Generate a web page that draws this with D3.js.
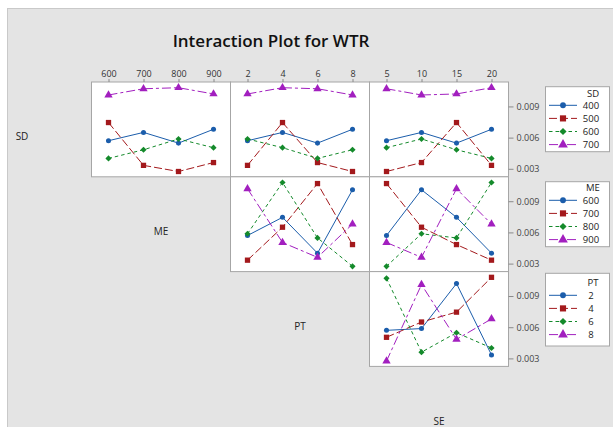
<!DOCTYPE html>
<html>
<head>
<meta charset="utf-8">
<script src="https://cdn.jsdelivr.net/npm/d3@7"></script>
<style>
  html, body { margin: 0; padding: 0; background: #ffffff; }
  svg { display: block; }
  text { font-family: "Open Sans", "Noto Sans", sans-serif; }
</style>
</head>
<body>
<svg id="chart" width="613" height="427"></svg>
<script>
// L16 runs: factor settings and the measured WTR of each run
const SD  = [400, 400, 400, 400, 500, 500, 500, 500, 600, 600, 600, 600, 700, 700, 700, 700];
const ME  = [600, 700, 800, 900, 600, 700, 800, 900, 600, 700, 800, 900, 600, 700, 800, 900];
const PT  = [2, 4, 6, 8, 4, 2, 8, 6, 6, 8, 2, 4, 8, 6, 4, 2];
const SE  = [5, 10, 15, 20, 15, 20, 5, 10, 20, 15, 10, 5, 10, 5, 20, 15];
const WTR = [0.0057, 0.0065, 0.00547, 0.0068, 0.00745, 0.00333, 0.00274, 0.0036,
             0.0040, 0.00483, 0.00587, 0.00503, 0.0101, 0.0107, 0.0108, 0.0102];

const factors = ["SD", "ME", "PT", "SE"];
const levels = {
  SD: [400, 500, 600, 700],
  ME: [600, 700, 800, 900],
  PT: [2, 4, 6, 8],
  SE: [5, 10, 15, 20]
};
const yTickValues = [0.003, 0.006, 0.009];
const titleText = "Interaction Plot for WTR";

const runs = d3.range(WTR.length).map(i => ({
  SD: SD[i], ME: ME[i], PT: PT[i], SE: SE[i], WTR: WTR[i]
}));

// one style per level of the grouping factor
const styles = [
  { color: "#1b5dab", dash: null,      symbol: d3.symbolCircle,   size: 20, rotate: 0 },
  { color: "#a3191c", dash: "8,3",     symbol: d3.symbolSquare,   size: 28, rotate: 0 },
  { color: "#148a2b", dash: "3.5,3",   symbol: d3.symbolSquare,   size: 19, rotate: 45 },
  { color: "#a21fbf", dash: "9,3,3,3", symbol: d3.symbolTriangle, size: 30, rotate: 0 }
];

// matrix geometry
const cellW = 139, cellH = 94.8;
const gridLeft = 91.5, gridTop = 82;
const xPad = 17;
const yDomain = [0.00223, 0.01135];

const svg = d3.select("#chart");

// page background
svg.append("rect").attr("x", 0).attr("y", 0).attr("width", 613).attr("height", 427).attr("fill", "#ffffff");
svg.append("rect")
  .attr("x", 7.5).attr("y", 8.5).attr("width", 620).attr("height", 430)
  .attr("fill", "#e4e4e4").attr("stroke", "#c9c9c9");

svg.append("text")
  .attr("x", 271).attr("y", 47)
  .attr("text-anchor", "middle")
  .attr("font-size", 17).attr("font-weight", 600).attr("fill", "#111")
  .text(titleText);

const cellLeft = c => gridLeft + cellW * c;
const cellTop = r => gridTop + cellH * r;

const symbolPath = (s, scale = 1) => d3.symbol().type(s.symbol).size(s.size * scale)();

// factor names on the diagonal
factors.forEach((f, r) => {
  svg.append("text")
    .attr("x", cellLeft(r - 1) + cellW / 2)
    .attr("y", cellTop(r) + cellH / 2 + 7)
    .attr("text-anchor", "middle").attr("dominant-baseline", "central")
    .attr("font-size", 10).attr("fill", "#222")
    .text(f);
});

// panels: row r groups by factor r, column c plots against factor c+1
for (let r = 0; r < 3; r++) {
  const group = factors[r];
  const y = d3.scaleLinear().domain(yDomain).range([cellTop(r) + cellH, cellTop(r)]);

  for (let c = r; c < 3; c++) {
    const xf = factors[c + 1];
    const left = cellLeft(c), top = cellTop(r);
    const x = d3.scalePoint().domain(levels[xf]).range([left + xPad, left + cellW - xPad]);

    const g = svg.append("g");
    g.append("rect")
      .attr("x", left).attr("y", top).attr("width", cellW).attr("height", cellH)
      .attr("fill", "#ffffff").attr("stroke", "#a6a6a6").attr("stroke-width", 1);

    // x axis across the top of the first row
    if (r === 0) {
      const ax = svg.append("g").attr("transform", `translate(0,${top})`)
        .call(d3.axisTop(x).tickSize(3).tickPadding(2));
      ax.select(".domain").remove();
      ax.selectAll("line").attr("stroke", "#8a8a8a");
      ax.selectAll("text").attr("font-size", 9).attr("fill", "#333")
        .attr("font-family", '"Open Sans", sans-serif');
    }

    // y axis on the right of the last column
    if (c === 2) {
      const ay = svg.append("g").attr("transform", `translate(${left + cellW},0)`)
        .call(d3.axisRight(y).tickValues(yTickValues).tickFormat(d3.format(".3f")).tickSize(5).tickPadding(3));
      ay.select(".domain").remove();
      ay.selectAll("line").attr("stroke", "#8a8a8a");
      ay.selectAll("text").attr("font-size", 9).attr("fill", "#444")
        .attr("font-family", '"Open Sans", sans-serif');
    }

    levels[group].forEach((gl, k) => {
      const s = styles[k];
      const pts = levels[xf].map(xl => ({
        x: xl,
        v: d3.mean(runs.filter(d => d[group] === gl && d[xf] === xl), d => d.WTR)
      })).filter(p => p.v !== undefined);

      g.append("path")
        .datum(pts)
        .attr("fill", "none")
        .attr("stroke", s.color).attr("stroke-width", 1)
        .attr("stroke-dasharray", s.dash)
        .attr("d", d3.line().x(p => x(p.x)).y(p => y(p.v)));

      g.selectAll(null).data(pts).enter().append("path")
        .attr("d", symbolPath(s))
        .attr("fill", s.color)
        .attr("transform", p => `translate(${x(p.x)},${y(p.v)}) rotate(${s.rotate})`);
    });
  }
}

// legends, one per grouping factor
const legendBoxes = [
  { top: 86.7, height: 65, titleDy: 6.5, firstDy: 18.6 },
  { top: 181.7, height: 65, titleDy: 6.2, firstDy: 18.6 },
  { top: 273.3, height: 72.7, titleDy: 9.2, firstDy: 22 }
];
const legendX = 545, legendW = 64, rowGap = 13.1;

legendBoxes.forEach((b, r) => {
  const f = factors[r];
  const lg = svg.append("g");
  lg.append("rect")
    .attr("x", legendX + 0.5).attr("y", b.top).attr("width", legendW).attr("height", b.height)
    .attr("fill", "#ffffff").attr("stroke", "#a6a6a6");
  lg.append("text")
    .attr("x", 593).attr("y", b.top + b.titleDy)
    .attr("text-anchor", "middle").attr("dominant-baseline", "central")
    .attr("font-size", 9.5).attr("fill", "#222")
    .text(f);
  levels[f].forEach((lv, k) => {
    const s = styles[k];
    const yy = b.top + b.firstDy + rowGap * k;
    lg.append("line")
      .attr("x1", 549).attr("x2", 577).attr("y1", yy).attr("y2", yy)
      .attr("stroke", s.color).attr("stroke-width", 1).attr("stroke-dasharray", s.dash);
    lg.append("path")
      .attr("d", symbolPath(s, 1.35))
      .attr("fill", s.color)
      .attr("transform", `translate(563,${yy}) rotate(${s.rotate})`);
    lg.append("text")
      .attr("x", 591).attr("y", yy)
      .attr("text-anchor", "middle").attr("dominant-baseline", "central")
      .attr("font-size", 9.5).attr("fill", "#222")
      .text(lv);
  });
});
</script>
</body>
</html>
